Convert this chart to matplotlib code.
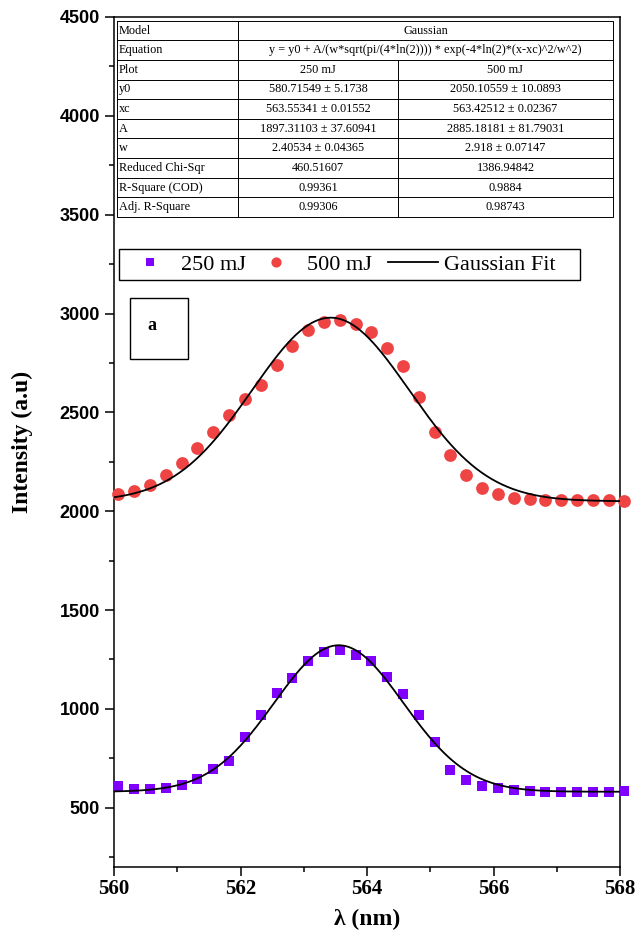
import matplotlib.pyplot as plt
import numpy as np

# measured points (lambda in nm)
wl = [560.07 + 0.25 * i for i in range(33)]

i_250 = [612, 595, 596, 600, 613, 645, 694, 735, 856, 968, 1079, 1154, 1240,
         1287, 1299, 1274, 1240, 1159, 1076, 971, 833, 691, 642, 612, 598,
         589, 584, 581, 578, 578, 578, 581, 584]
i_500 = [2085, 2102, 2134, 2185, 2246, 2320, 2403, 2488, 2566, 2636, 2737,
         2836, 2917, 2956, 2966, 2946, 2908, 2824, 2732, 2580, 2403, 2286,
         2183, 2119, 2085, 2069, 2061, 2058, 2058, 2058, 2058, 2058, 2054]

# fit parameters as given in the table (250 mJ, 500 mJ)
y0 = [580.71549, 2050.10559]
xc = [563.55341, 563.42512]
A = [1897.31103, 2885.18181]
w = [2.40534, 2.918]

table_rows = [
    ["y0", "580.71549 ± 5.1738", "2050.10559 ± 10.0893"],
    ["xc", "563.55341 ± 0.01552", "563.42512 ± 0.02367"],
    ["A", "1897.31103 ± 37.60941", "2885.18181 ± 81.79031"],
    ["w", "2.40534 ± 0.04365", "2.918 ± 0.07147"],
    ["Reduced Chi-Sqr", "460.51607", "1386.94842"],
    ["R-Square (COD)", "0.99361", "0.9884"],
    ["Adj. R-Square", "0.99306", "0.98743"],
]
equation = "y = y0 + A/(w*sqrt(pi/(4*ln(2)))) * exp(-4*ln(2)*(x-xc)^2/w^2)"


def gauss(x, y0, xc, A, w):
    return y0 + A / (w * np.sqrt(np.pi / (4 * np.log(2)))) * np.exp(-4 * np.log(2) * (x - xc) ** 2 / w ** 2)


serif = 'Liberation Serif'
sans = 'Liberation Sans'

fig = plt.figure(figsize=(6.38, 9.35), dpi=100)
ax = fig.add_axes([114 / 638, 1 - 867 / 935, 506 / 638, 850 / 935])

xf = np.linspace(560, 568, 500)
h1, = ax.plot(wl, i_250, 's', color='#7F00FF', markersize=7.5, markeredgewidth=0, label='250 mJ', clip_on=False, zorder=3)
h2, = ax.plot(wl, i_500, 'o', color='#EF4444', markersize=9.2, markeredgewidth=0, label='500 mJ', clip_on=False, zorder=3)
h3, = ax.plot(xf, gauss(xf, y0[0], xc[0], A[0], w[0]), color='black', linewidth=1.3, label='Gaussian Fit', zorder=4)
ax.plot(xf, gauss(xf, y0[1], xc[1], A[1], w[1]), color='black', linewidth=1.3, zorder=4)

ax.set_xlim(560, 568)
ax.set_ylim(200, 4500)
ax.set_xticks(np.arange(560, 569, 2))
ax.set_xticks(np.arange(561, 568, 2), minor=True)
ax.set_yticks(np.arange(500, 4501, 500))
ax.set_yticks(np.arange(250, 4500, 500), minor=True)
ax.tick_params(which='major', direction='out', length=6.5, width=1.1)
ax.tick_params(which='minor', direction='out', length=3.5, width=1.1)
ax.tick_params(axis='y', pad=3.5)
ax.tick_params(axis='x', pad=2)
for s in ax.spines.values():
    s.set_linewidth(1.1)

for lab in ax.get_xticklabels():
    lab.set_fontfamily(serif)
    lab.set_fontweight('bold')
    lab.set_fontsize(15)
for lab in ax.get_yticklabels():
    lab.set_fontfamily(sans)
    lab.set_fontweight('bold')
    lab.set_fontsize(13)

ax.set_xlabel("λ (nm)", fontfamily=serif, fontweight='bold', fontsize=17, labelpad=7)
ax.set_ylabel("Intensity (a.u)", fontfamily=serif, fontweight='bold', fontsize=17, labelpad=19)

# fit result table drawn in axes coords
tx = [0.0059, 0.245, 0.561, 0.986]
ttop, tbot = 0.9956, 0.7647
rh = (ttop - tbot) / 10
lw = 0.7
fs = 8.8
ax.plot([tx[0], tx[3], tx[3], tx[0], tx[0]], [ttop, ttop, tbot, tbot, ttop],
        color='black', linewidth=lw, transform=ax.transAxes)
ax.plot([tx[1], tx[1]], [ttop, tbot], color='black', linewidth=lw, transform=ax.transAxes)
ax.plot([tx[2], tx[2]], [ttop - 2 * rh, tbot], color='black', linewidth=lw, transform=ax.transAxes)
for r in range(1, 10):
    yy = ttop - r * rh
    ax.plot([tx[0], tx[3]], [yy, yy], color='black', linewidth=lw, transform=ax.transAxes)

head = [["Model", "Gaussian"], ["Equation", equation]]
for r, (a, b) in enumerate(head):
    yc = ttop - (r + 0.5) * rh
    ax.text(tx[0] + 0.004, yc, a, fontfamily=serif, fontsize=fs, ha='left', va='center', transform=ax.transAxes)
    ax.text((tx[1] + tx[3]) / 2, yc, b, fontfamily=serif, fontsize=fs, ha='center', va='center', transform=ax.transAxes)
rows = [["Plot", "250 mJ", "500 mJ"]] + table_rows
for r, row in enumerate(rows):
    yc = ttop - (r + 2.5) * rh
    ax.text(tx[0] + 0.004, yc, row[0], fontfamily=serif, fontsize=fs, ha='left', va='center', transform=ax.transAxes)
    ax.text((tx[1] + tx[2]) / 2, yc, row[1], fontfamily=serif, fontsize=fs, ha='center', va='center', transform=ax.transAxes)
    ax.text((tx[2] + tx[3]) / 2, yc, row[2], fontfamily=serif, fontsize=fs, ha='center', va='center', transform=ax.transAxes)

# legend in two parts inside one drawn frame
legkw = dict(loc='upper left', frameon=False, borderaxespad=0, borderpad=0.25,
             handlelength=2.25, handletextpad=0.3, columnspacing=0.2,
             prop={'family': serif, 'size': 16}, markerscale=0.8)
leg1 = ax.legend(handles=[h1, h2], ncol=2, bbox_to_anchor=(0.0099, 0.727), **legkw)
ax.add_artist(leg1)
ax.legend(handles=[h3], ncol=1, bbox_to_anchor=(0.530, 0.727), **legkw)
ax.add_patch(plt.Rectangle((0.0099, 0.6906), 0.911, 0.0365, transform=ax.transAxes,
                           fill=False, edgecolor='black', linewidth=1.0))

# "a" label box
ax.add_patch(plt.Rectangle((0.0312, 0.5982), 0.1146, 0.0718, transform=ax.transAxes,
                           fill=False, edgecolor='black', linewidth=1.0))
ax.text(0.0751, 0.6376, "a", fontfamily=serif, fontweight='bold', fontsize=13,
        ha='center', va='center', transform=ax.transAxes)

fig.savefig('out.png', dpi=100)
